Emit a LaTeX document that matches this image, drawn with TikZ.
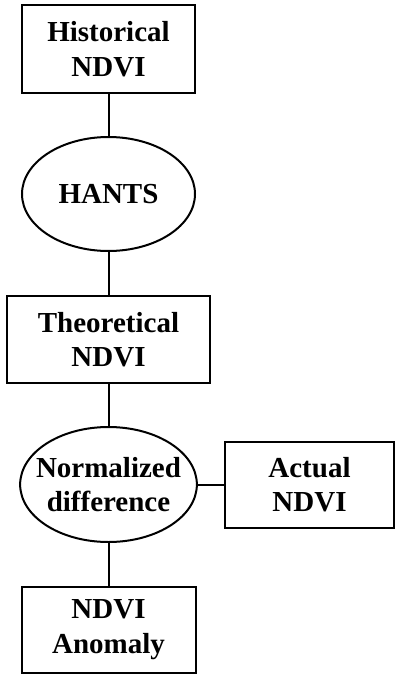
\documentclass[tikz,border=0pt]{standalone}
\usepackage{fontspec}
\setmainfont{Liberation Serif}
\usetikzlibrary{shapes.geometric}
\begin{document}
\begin{tikzpicture}[x=1pt,y=-1pt,
  every node/.style={font=\fontsize{29}{34.4}\selectfont\bfseries, align=center, inner sep=0pt, line width=2pt, draw},
  stepbox/.style={rectangle},
  process/.style={ellipse, inner xsep=-10pt},
  link/.style={line width=2pt}]
  \useasboundingbox (0,0) rectangle (396,674);
  \node[stepbox, minimum width=173pt, minimum height=88pt] (hist) at (108.5,49) {Historical\\NDVI};
  \node[process, minimum width=173pt, minimum height=114pt] (hants) at (108.5,194) {HANTS};
  \node[stepbox, minimum width=203pt, minimum height=87pt] (theo) at (108.5,339.5) {Theoretical\\NDVI};
  \node[process, minimum width=175pt, minimum height=115pt] (norm) at (108.5,484.5) {Normalized\\difference};
  \node[stepbox, minimum width=169pt, minimum height=86pt] (act) at (309.5,484.5) {Actual\\NDVI};
  \node[stepbox, minimum width=174pt, minimum height=86pt] (anom) at (108.5,629.5) {NDVI\\Anomaly};
  \draw[link] (hist) -- (hants);
  \draw[link] (hants) -- (theo);
  \draw[link] (theo) -- (norm);
  \draw[link] (norm) -- (act);
  \draw[link] (norm) -- (anom);
\end{tikzpicture}
\end{document}
